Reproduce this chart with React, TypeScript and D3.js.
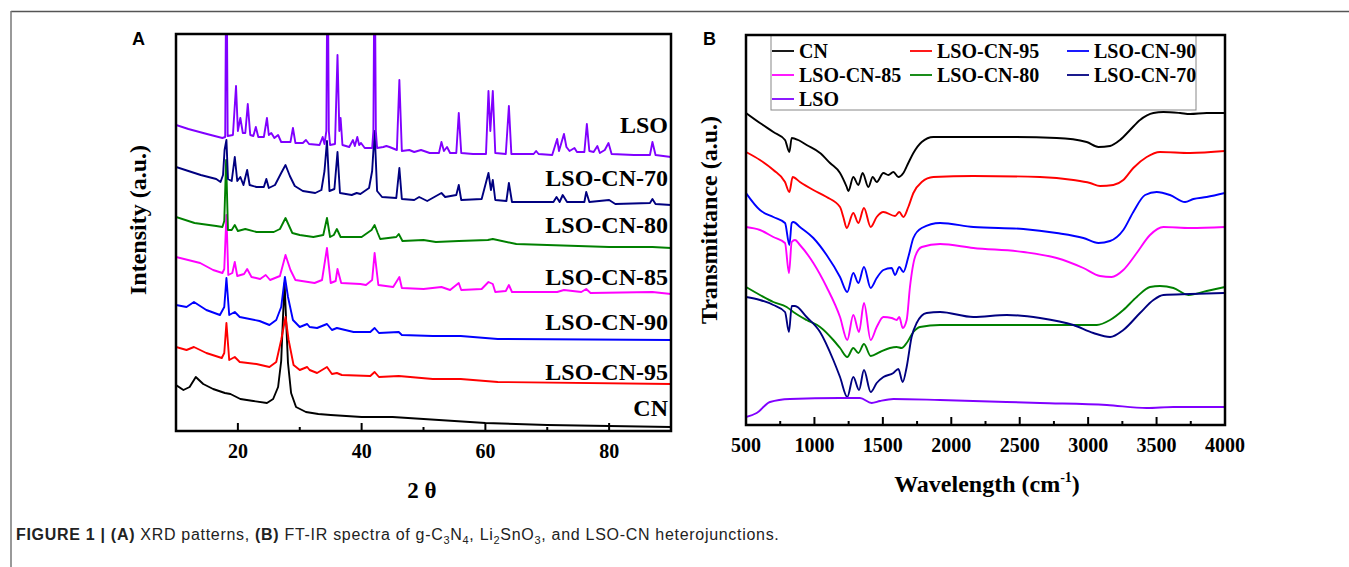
import React from 'react';
import * as d3 from 'd3';

// ---- panel A: XRD patterns (2θ, intensity a.u.) ----
const xrdLSO = [
  [10, 306], [12, 302], [15, 297], [17.5, 293], [17.95, 294], [18.15, 500], [18.35, 295], [19.2, 296],
  [19.7, 345], [20.0, 300], [20.4, 313], [20.8, 298], [21.2, 298], [21.6, 327], [22.0, 296], [22.5, 295],
  [22.9, 304], [23.3, 294], [24.2, 294], [24.7, 313], [25.0, 296], [25.4, 298], [25.9, 293], [26.5, 296],
  [27.0, 289], [28.5, 289], [28.9, 303], [29.3, 288], [30.5, 288], [31.0, 291], [31.5, 287], [33.2, 286],
  [33.7, 294], [34.0, 287], [34.3, 300], [34.5, 500], [34.7, 300], [34.9, 286], [35.7, 287], [36.1, 376],
  [36.4, 300], [36.6, 313], [36.9, 286], [38.0, 284], [38.6, 291], [38.9, 285], [39.3, 294], [39.6, 286],
  [39.9, 288], [40.5, 283], [41.7, 283], [41.9, 300], [42.1, 500], [42.3, 300], [42.5, 283], [43.5, 284],
  [44.0, 285], [44.5, 284], [45.7, 281], [46.1, 351], [46.5, 280], [47.7, 281], [48.5, 279], [49.6, 281],
  [51.0, 278], [52.5, 278], [52.9, 289], [53.3, 280], [53.8, 284], [54.3, 278], [55.3, 278], [55.7, 318],
  [56.1, 278], [58, 277], [60.1, 277], [60.5, 340], [60.8, 300], [61.2, 340], [61.6, 278], [63.3, 277],
  [63.8, 325], [64.2, 277], [66, 277], [67.8, 277], [68.2, 280], [68.6, 277], [70.8, 276], [71.6, 292],
  [71.9, 280], [72.7, 297], [73.1, 284], [73.6, 280], [74.4, 283], [74.8, 279], [76.0, 279], [76.4, 307],
  [76.8, 280], [77.5, 279], [78.1, 285], [78.5, 278], [79.3, 281], [79.9, 288], [80.4, 277], [84, 276],
  [86.6, 276], [87.0, 289], [87.5, 276], [90, 274],
];
const xrdLSO70 = [
  [10, 264], [12, 260], [14, 256], [16.5, 252], [17.2, 249], [17.6, 256], [17.85, 281], [18.15, 291],
  [18.4, 252], [19.0, 250], [19.5, 274], [19.9, 250], [20.4, 254], [20.9, 246], [21.5, 261], [21.9, 246],
  [23, 244], [24.2, 244], [24.6, 252], [25.0, 243], [26.0, 246], [27.0, 258], [27.7, 266], [28.4, 255],
  [29.2, 245], [30.5, 240], [32.5, 238], [33.5, 241], [34.0, 260], [34.4, 290], [34.8, 240], [35.6, 242],
  [36.1, 279], [36.5, 238], [38.4, 236], [39.2, 238], [39.8, 237], [41.2, 243], [41.7, 260], [42.1, 300],
  [42.5, 240], [43.3, 234], [45.6, 233], [46.1, 263], [46.5, 232], [48.5, 231], [49.3, 234], [50.6, 230],
  [52.9, 238], [53.5, 234], [55.3, 236], [55.7, 246], [56.1, 231], [59.4, 232], [60.5, 258], [60.9, 241],
  [61.2, 251], [61.6, 231], [63.4, 230], [63.8, 248], [64.3, 229], [71.0, 229], [71.5, 234], [72.0, 229],
  [72.5, 236], [73.2, 229], [76.0, 229], [76.3, 239], [76.8, 229], [80, 231], [81, 227], [86.6, 228],
  [87.0, 232], [87.5, 227], [90, 226],
];
const xrdLSO80 = [
  [10, 214], [13, 208], [16.5, 205], [17.5, 204], [17.8, 210], [18.1, 271], [18.4, 201], [19.0, 201],
  [19.5, 206], [20, 200], [21.2, 202], [23, 199], [25.8, 199], [26.8, 202], [27.7, 213], [28.8, 198],
  [30, 196], [32.2, 194], [33.8, 196], [34.4, 213], [34.9, 194], [35.5, 196], [36.0, 202], [36.6, 194],
  [40.0, 194], [41.6, 201], [42.1, 206], [42.6, 198], [43.0, 192], [45.6, 194], [46.0, 197], [46.6, 190],
  [50, 191], [52, 189], [55.7, 190], [60.4, 191], [61.2, 192], [65, 187], [70, 186], [75, 185],
  [80, 184], [87, 184], [90, 183],
];
const xrdLSO85 = [
  [10, 174], [13.9, 168], [16, 161], [17.5, 158], [17.8, 162], [18.15, 216], [18.45, 156], [19.1, 158],
  [19.5, 169], [19.9, 155], [21.0, 157], [21.5, 162], [22.2, 154], [23.6, 152], [24.5, 156], [25.2, 151],
  [26.8, 155], [27.7, 176], [28.5, 161], [29.3, 151], [32.4, 148], [33.6, 151], [34.4, 183], [35.0, 148],
  [35.8, 150], [36.1, 162], [36.7, 148], [39.8, 147], [40.7, 146], [41.7, 151], [42.1, 178], [42.7, 146],
  [45.1, 144], [46.1, 154], [46.5, 143], [50, 142], [52.9, 144], [54.3, 141], [55.7, 148], [56.1, 141],
  [59.4, 142], [60.5, 149], [61.2, 147], [61.6, 139], [63.3, 140], [63.8, 146], [64.3, 139], [71.6, 139],
  [72.7, 141], [75.5, 139], [76.3, 142], [77, 138], [87, 139], [90, 137],
];
const xrdLSO90 = [
  [10, 126], [11.7, 124], [12.9, 129], [14.9, 121], [17.1, 116], [17.8, 124], [18.15, 153], [18.6, 116],
  [19.5, 119], [20.3, 114], [23.5, 110], [25.1, 106], [26.2, 111], [27.0, 124], [27.6, 154], [28.1, 134],
  [28.9, 111], [30.0, 104], [31.2, 107], [31.6, 104], [32.8, 103], [34.4, 107], [35.2, 101], [36.0, 103],
  [38.7, 99], [41.4, 99], [42.1, 103], [42.8, 98], [46.0, 99], [46.5, 96], [51.5, 95], [56, 95],
  [62, 92], [90, 91],
];
const xrdLSO95 = [
  [10, 84], [11.7, 81], [12.9, 84], [14.9, 78], [17.4, 73], [17.8, 78], [18.15, 108], [18.6, 71],
  [19.5, 74], [20.3, 69], [23.0, 67], [25.1, 64], [26.2, 69], [27.0, 91], [27.7, 114], [28.2, 91],
  [29.0, 66], [30.0, 61], [31.2, 64], [31.6, 61], [32.8, 58], [34.4, 64], [35.2, 57], [36.0, 58],
  [36.8, 56], [41.4, 55], [42.1, 59], [42.8, 54], [46.0, 55], [51.5, 52], [56, 52], [62, 49], [90, 47],
];
const xrdCN = [
  [10, 46], [11.2, 41], [12.2, 44], [13.2, 54], [14.4, 47], [16.0, 42], [17.9, 38], [18.8, 37],
  [20.4, 32], [22.5, 30], [24.7, 28], [25.7, 32], [26.5, 44], [27.0, 70], [27.3, 115], [27.55, 148],
  [27.8, 110], [28.1, 68], [28.6, 38], [29.4, 24], [31, 19], [33, 17], [35, 16], [40, 14], [45, 14],
  [50, 12], [55, 10], [60, 8], [70, 6], [80, 5], [90, 4],
];

// ---- panel B: FT-IR spectra (wavenumber, transmittance a.u.) ----
const irCN = [
  [500, 312], [602, 302], [700, 293], [785, 285], [817, 273], [834, 287], [882, 285], [943, 280],
  [1041, 272], [1114, 262], [1187, 252], [1236, 238], [1248, 234], [1284, 248], [1321, 240], [1352, 252],
  [1394, 238], [1426, 248], [1455, 243], [1504, 252], [1540, 250], [1577, 253], [1613, 248], [1650, 252],
  [1686, 262], [1723, 272], [1784, 283], [1869, 288], [2039, 288], [2405, 288], [2770, 287], [2989, 283],
  [3075, 278], [3160, 279], [3233, 285], [3306, 295], [3379, 305], [3477, 312], [3550, 313], [3672, 312],
  [3745, 311], [3866, 312], [4000, 312],
];
const irLSO95 = [
  [500, 273], [602, 265], [700, 255], [785, 243], [817, 233], [841, 248], [894, 243], [992, 235],
  [1089, 228], [1187, 218], [1211, 208], [1236, 197], [1284, 212], [1321, 202], [1362, 217], [1411, 198],
  [1455, 208], [1504, 213], [1589, 209], [1620, 213], [1650, 208], [1686, 218], [1723, 232], [1784, 243],
  [1869, 248], [2161, 249], [2648, 248], [2892, 245], [3014, 242], [3087, 239], [3184, 240], [3257, 245],
  [3330, 257], [3428, 268], [3525, 273], [3745, 272], [4000, 274],
];
const irLSO90 = [
  [500, 232], [602, 215], [700, 208], [785, 202], [817, 180], [834, 202], [846, 203], [894, 198],
  [992, 187], [1089, 170], [1187, 148], [1240, 133], [1284, 152], [1321, 142], [1362, 158], [1411, 137],
  [1455, 147], [1504, 155], [1564, 157], [1589, 150], [1620, 158], [1650, 153], [1686, 168], [1723, 187],
  [1784, 197], [1918, 202], [2161, 198], [2527, 196], [2770, 192], [2965, 187], [3075, 182], [3160, 184],
  [3257, 195], [3330, 213], [3416, 230], [3501, 233], [3598, 230], [3708, 223], [3769, 226], [3866, 228],
  [4000, 232],
];
const irLSO85 = [
  [500, 198], [602, 195], [700, 188], [785, 182], [814, 152], [834, 183], [858, 185], [894, 180],
  [992, 162], [1089, 138], [1187, 108], [1240, 85], [1284, 110], [1326, 93], [1362, 122], [1411, 85],
  [1455, 98], [1504, 108], [1564, 107], [1601, 105], [1620, 108], [1645, 97], [1674, 105], [1698, 138],
  [1735, 168], [1784, 178], [1918, 181], [2161, 177], [2527, 173], [2770, 167], [2965, 157], [3087, 149],
  [3172, 148], [3257, 155], [3355, 172], [3452, 190], [3550, 198], [3745, 197], [4000, 198],
];
const irLSO80 = [
  [500, 138], [602, 130], [700, 123], [797, 118], [846, 113], [943, 105], [1041, 98], [1138, 85],
  [1187, 77], [1240, 68], [1284, 77], [1321, 72], [1362, 81], [1411, 69], [1479, 73], [1552, 77],
  [1601, 78], [1637, 77], [1674, 82], [1723, 93], [1771, 98], [1918, 100], [2405, 100], [2892, 100],
  [3063, 100], [3160, 105], [3257, 115], [3355, 128], [3452, 138], [3525, 139], [3623, 137], [3733, 130],
  [3866, 134], [4000, 138],
];
const irLSO70 = [
  [500, 128], [602, 125], [700, 120], [785, 113], [814, 93], [834, 119], [858, 119], [943, 108],
  [1041, 93], [1138, 65], [1187, 48], [1240, 28], [1284, 48], [1326, 35], [1362, 55], [1411, 33],
  [1455, 42], [1504, 48], [1577, 52], [1613, 56], [1645, 43], [1674, 58], [1710, 88], [1747, 102],
  [1820, 112], [1918, 113], [2161, 108], [2405, 110], [2648, 107], [2892, 100], [3038, 92], [3160, 88],
  [3257, 95], [3379, 112], [3477, 125], [3550, 130], [3745, 131], [4000, 132],
];
const irLSO = [
  [500, 8], [578, 12], [675, 23], [821, 26], [1187, 27], [1333, 27], [1418, 22], [1479, 24],
  [1577, 26], [1918, 25], [2648, 22], [3136, 20], [3428, 17], [3623, 18], [4000, 18],
];

const seriesNames = ['CN', 'LSO-CN-95', 'LSO-CN-90', 'LSO-CN-85', 'LSO-CN-80', 'LSO-CN-70', 'LSO'];
const seriesColors = ['#000000', '#ff0000', '#0000ff', '#ff00ff', '#008000', '#000080', '#8000ff'];
const xrdSeries = [xrdCN, xrdLSO95, xrdLSO90, xrdLSO85, xrdLSO80, xrdLSO70, xrdLSO];
const irSeries = [irCN, irLSO95, irLSO90, irLSO85, irLSO80, irLSO70, irLSO];
// label level (intensity) where each XRD curve name sits
const xrdLabelLevels = [15, 51, 101, 146, 198, 245, 298];

const xrdMajor = [20, 40, 60, 80];
const xrdMinor = [30, 50, 70];
const irMajor = [500, 1000, 1500, 2000, 2500, 3000, 3500, 4000];
const irMinor = [750, 1250, 1750, 2250, 2750, 3250, 3750];

const SERIF = '"Liberation Serif", "Times New Roman", serif';
const SANS = '"Liberation Sans", Arial, sans-serif';

function Frame({ x0, x1, y0, y1, major, minor, x }) {
  return (
    <g>
      {major.filter(t => t > x.domain()[0] && t < x.domain()[1]).map(t => (
        <line key={'M' + t} x1={x(t)} x2={x(t)} y1={y1} y2={y1 - 8} stroke="#000" strokeWidth={2} />
      ))}
      {minor.map(t => (
        <line key={'m' + t} x1={x(t)} x2={x(t)} y1={y1} y2={y1 - 4} stroke="#000" strokeWidth={2} />
      ))}
      <rect x={x0} y={y0} width={x1 - x0} height={y1 - y0} fill="none" stroke="#000" strokeWidth={2.5} />
      {major.map(t => (
        <text key={'l' + t} x={x(t)} y={y1 + 27} textAnchor="middle" fontFamily={SERIF}
          fontWeight="bold" fontSize={20}>{t}</text>
      ))}
    </g>
  );
}

export default function App() {
  const A = { x0: 176, x1: 671, y0: 34, y1: 431 };
  const B = { x0: 746, x1: 1225, y0: 35, y1: 425 };

  const xA = d3.scaleLinear().domain([10, 90]).range([A.x0, A.x1]);
  const yA = d3.scaleLinear().domain([0, 397]).range([A.y1, A.y0]);
  const xB = d3.scaleLinear().domain([500, 4000]).range([B.x0, B.x1]);
  const yB = d3.scaleLinear().domain([0, 390]).range([B.y1, B.y0]);

  const lineA = d3.line().x(d => xA(d[0])).y(d => yA(d[1]));
  const lineB = d3.line().x(d => xB(d[0])).y(d => yB(d[1])).curve(d3.curveMonotoneX);

  const legendCols = [772, 910, 1067];
  const legendRows = [51, 75, 99];

  const sub = (s) => <tspan fontSize={11} dy={4}>{s}</tspan>;
  const up = (s) => <tspan dy={-4}>{s}</tspan>;

  return (
    <svg width={1349} height={567} style={{ position: 'absolute', left: 0, top: 0, background: '#fff' }}>
      <defs>
        <clipPath id="clipA"><rect x={A.x0} y={A.y0} width={A.x1 - A.x0} height={A.y1 - A.y0} /></clipPath>
        <clipPath id="clipB"><rect x={B.x0} y={B.y0} width={B.x1 - B.x0} height={B.y1 - B.y0} /></clipPath>
      </defs>

      {/* figure border */}
      <line x1={11} x2={1349} y1={11.5} y2={11.5} stroke="#555" strokeWidth={1.5} />
      <line x1={11} x2={11} y1={11} y2={567} stroke="#777" strokeWidth={1.5} />

      {/* ---------- panel A ---------- */}
      <text x={132} y={45} fontFamily={SANS} fontWeight="bold" fontSize={18}>A</text>
      <g clipPath="url(#clipA)">
        {xrdSeries.map((s, i) => (
          <path key={i} d={lineA(s)} fill="none" stroke={seriesColors[i]} strokeWidth={1.9}
            strokeLinejoin="round" />
        ))}
      </g>
      {seriesNames.map((n, i) => (
        <text key={n} x={668} y={yA(xrdLabelLevels[i])} textAnchor="end" fontFamily={SERIF}
          fontWeight="bold" fontSize={24}>{n}</text>
      ))}
      <Frame {...A} major={xrdMajor} minor={xrdMinor} x={xA} />
      <text x={422} y={498} textAnchor="middle" fontFamily={SERIF} fontWeight="bold" fontSize={23}>2 θ</text>
      <text transform="translate(146,220) rotate(-90)" textAnchor="middle" fontFamily={SERIF}
        fontWeight="bold" fontSize={24}>Intensity (a.u.)</text>

      {/* ---------- panel B ---------- */}
      <text x={703} y={45} fontFamily={SANS} fontWeight="bold" fontSize={18}>B</text>
      <g clipPath="url(#clipB)">
        {irSeries.map((s, i) => (
          <path key={i} d={lineB(s)} fill="none" stroke={seriesColors[i]} strokeWidth={1.9}
            strokeLinejoin="round" />
        ))}
      </g>
      <rect x={771} y={B.y0} width={425} height={75} fill="#fff" stroke="#888" strokeWidth={1} />
      {seriesNames.map((n, i) => {
        const cx = legendCols[i % 3];
        const cy = legendRows[Math.floor(i / 3)];
        return (
          <g key={n}>
            <line x1={cx} x2={cx + 22} y1={cy} y2={cy} stroke={seriesColors[i]} strokeWidth={1.8} />
            <text x={cx + 27} y={cy + 7} fontFamily={SERIF} fontWeight="bold" fontSize={20}>{n}</text>
          </g>
        );
      })}
      <Frame {...B} major={irMajor} minor={irMinor} x={xB} />
      <text x={987} y={492} textAnchor="middle" fontFamily={SERIF} fontWeight="bold" fontSize={24}>
        Wavelength (cm<tspan fontSize={14} dy={-10}>-1</tspan><tspan dy={10}>)</tspan>
      </text>
      <text transform="translate(717,220) rotate(-90)" textAnchor="middle" fontFamily={SERIF}
        fontWeight="bold" fontSize={24}>Transmittance (a.u.)</text>

      {/* caption */}
      <text x={16} y={540} fontFamily={SANS} fontSize={16} letterSpacing={0.7} fill="#222">
        <tspan fontWeight="bold">FIGURE 1 | (A)</tspan> XRD patterns, <tspan fontWeight="bold">(B)</tspan> FT-IR
        spectra of g-C{sub('3')}{up('N')}{sub('4')}{up(', Li')}{sub('2')}{up('SnO')}{sub('3')}{up(', and LSO-CN heterojunctions.')}
      </text>
    </svg>
  );
}
